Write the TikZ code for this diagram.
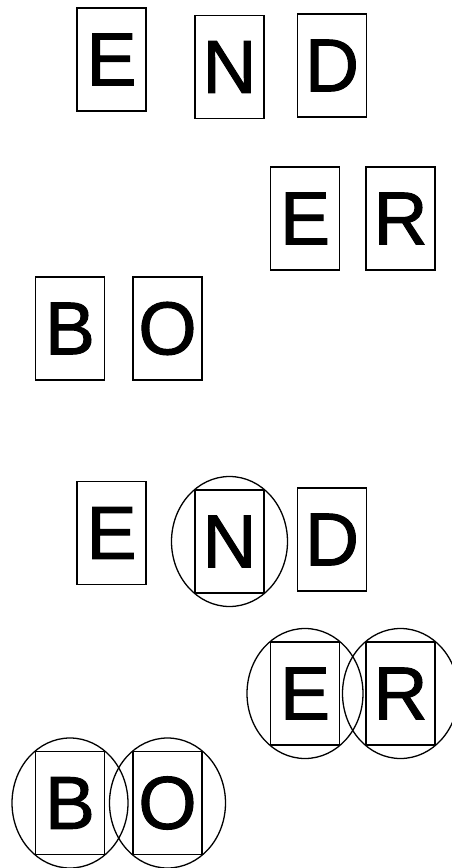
\documentclass[tikz,border=0pt]{standalone}
\usepackage{fontspec}
\setmainfont{Liberation Sans}
\newfontfamily\letterfont[BoldFont={Liberation Sans}, BoldFeatures={FakeBold=1.3}]{Liberation Sans}
\usetikzlibrary{shapes.geometric}
\tikzset{
  letterbox/.style={draw, line width=1.3pt, minimum width=69pt, minimum height=103pt, inner sep=0pt, font=\letterfont\bfseries\fontsize{75}{75}\selectfont},
  ring/.style={draw, ellipse, line width=1.3pt, minimum width=116pt, minimum height=130pt, inner sep=0pt}
}
\begin{document}
\begin{tikzpicture}[x=1pt,y=-1pt]
\useasboundingbox (0,0) rectangle (452,868);
\clip (0,0) rectangle (452,868);
% upper group
\node[letterbox] (e1) at (111.5,59.5) {E};
\node[letterbox] (n1) at (229.5,67) {N};
\node[letterbox] (d1) at (332,65.5) {D};
\node[letterbox] (e2) at (305,218.5) {E};
\node[letterbox] (r1) at (400.5,218.5) {R};
\node[letterbox] (b1) at (70,328.5) {B};
\node[letterbox] (o1) at (167.5,328.5) {O};
% lower group
\node[letterbox] (e3) at (111.5,533) {E};
\node[letterbox] (n2) at (229.5,541.5) {N};
\node[letterbox] (d2) at (332,539.5) {D};
\node[letterbox] (e4) at (305,693.5) {E};
\node[letterbox] (r2) at (400.5,693.5) {R};
\node[letterbox] (b2) at (70,803) {B};
\node[letterbox] (o2) at (167.5,803) {O};
% rings
\node[ring] (cn2) at (n2.center) {};
\node[ring] (ce4) at (e4.center) {};
\node[ring] (cr2) at (r2.center) {};
\node[ring] (cb2) at (b2.center) {};
\node[ring] (co2) at (o2.center) {};
\end{tikzpicture}
\end{document}
